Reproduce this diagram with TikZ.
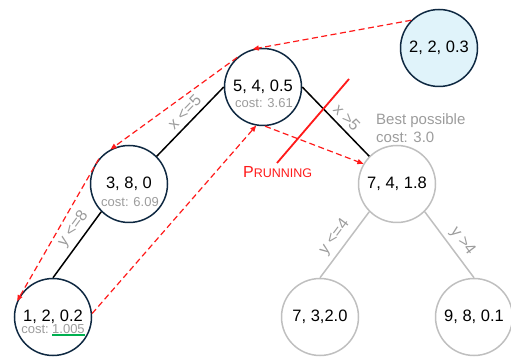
\documentclass[tikz,border=0pt]{standalone}
\usepackage{fontspec}
\setmainfont{Liberation Sans}
\usetikzlibrary{arrows.meta}
\definecolor{navy}{HTML}{0E2841}
\definecolor{lightsky}{HTML}{E0F3FA}
\definecolor{ghost}{HTML}{BFBFBF}
\definecolor{note}{HTML}{9C9C9C}
\definecolor{cut}{HTML}{FF1A1A}
\definecolor{best}{HTML}{00B050}
\begin{document}
\begin{tikzpicture}[x=1pt,y=1pt,
  state/.style={circle,draw=navy,line width=1.5pt,minimum size=77pt,inner sep=0pt,
    font=\fontsize{16.5}{18}\selectfont},
  pruned/.style={state,draw=ghost},
  cost/.style={text=note,inner sep=0pt,font=\fontsize{13}{14}\selectfont},
  cond/.style={sloped,above,text=note,inner sep=4.5pt,font=\fontsize{16}{17}\selectfont},
  walk/.style={draw=cut,line width=1.2pt,dash pattern=on 6pt off 3.5pt,
    -{Triangle[length=6pt,width=5pt]}}]
  \useasboundingbox (0,0) rectangle (511,356);

  % explored branch
  \node[state,fill=lightsky] (q) at (439,308) {2, 2, 0.3};
  \node[state] (root) at (263,269) {5, 4, 0.5};
  \node[cost] (rootcost) at (264,253) {cost: 3.61};
  \node[state] (left) at (129,172) {3, 8, 0};
  \node[cost] (leftcost) at (130,154) {cost: 6.09};
  \node[state] (leaf) at (53,39) {1, 2, 0.2};
  \node[cost,anchor=base east] (leafcost) at (49,23) {cost:};
  \node[cost,anchor=base west] (leafval) at (52,23) {1.005};
  \draw[best,line width=1.5pt] ([yshift=-2pt]leafval.base west) -- ([yshift=-2pt]leafval.base east);

  % pruned branch
  \node[pruned] (right) at (397,172) {7, 4, 1.8};
  \node[pruned] (rl) at (320,39) {7, 3,2.0};
  \node[pruned] (rr) at (474,39) {9, 8, 0.1};
  \node[text=note,anchor=west,align=left,inner sep=0pt,font=\fontsize{15}{18.5}\selectfont]
    (bound) at (376,228) {Best possible\\cost: 3.0};

  % splits
  \draw[line width=1.5pt] (root.west) -- node[cond,pos=0.47] {x <=5} (left.north east);
  \draw[line width=1.5pt] (root.east) -- node[cond,pos=0.55] {x >5} (right.north west);
  \draw[line width=1.5pt] (left.south west) -- node[cond,pos=0.37] {y <=8} (leaf.north);
  \draw[ghost,line width=1.5pt] (right.south west) -- node[cond,pos=0.5] {y <=4} (rl.north);
  \draw[ghost,line width=1.5pt] (right.south east) -- node[cond,pos=0.56] {y >4} (rr.north);

  % search order
  \draw[walk] (q.north west) -- (root.105);
  \draw[walk] (root.131) -- (left.118);
  \draw[walk] (left.140) -- (leaf.156);
  \draw[walk] (leaf.5) -- (root.260);
  \draw[walk] (root.273) -- (right.149);

  % cut
  \coordinate (cuttop) at (349,277);
  \coordinate (cutbot) at (277,193);
  \draw[cut,line width=1.8pt] (cuttop) -- (cutbot);
  \node[text=cut,anchor=west,inner sep=0pt] (prune) at (243,184)
    {{\fontsize{16}{16}\selectfont P}{\fontsize{12.5}{12.5}\selectfont RUNNING}};
\end{tikzpicture}
\end{document}
